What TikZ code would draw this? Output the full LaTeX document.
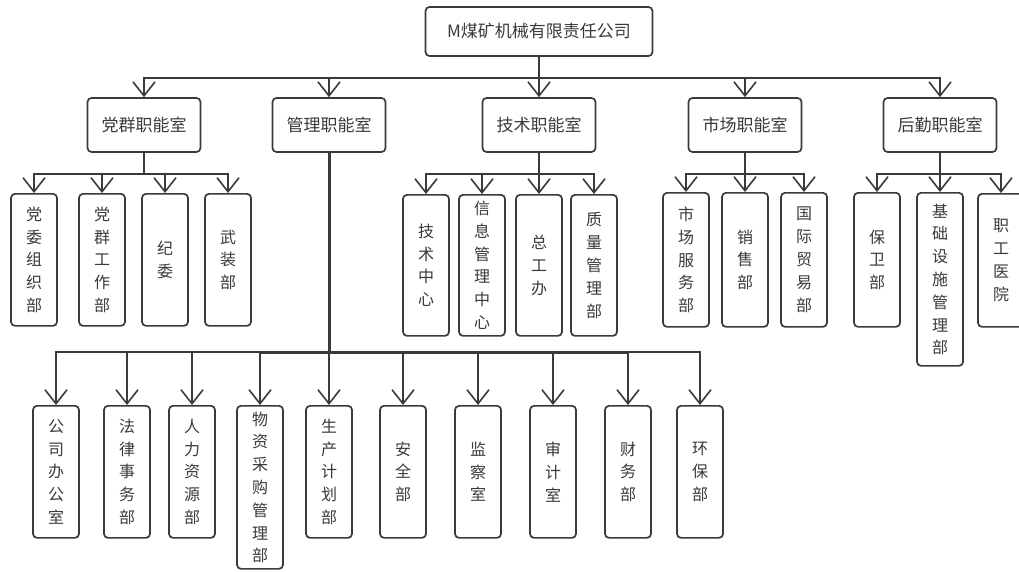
\documentclass[tikz,border=0pt]{standalone}
\usepackage{fontspec}
\newfontfamily\cjk{Noto Sans CJK SC}
\usetikzlibrary{arrows.meta}
\definecolor{ln}{HTML}{3A3A3A}
\definecolor{tx}{HTML}{3A3A3A}
\tikzset{
  box/.style={draw=ln, line width=1.7pt, rounded corners=4pt, fill=white, text=tx, inner sep=0pt, align=center},
  topbox/.style={box, minimum width=227pt, minimum height=49pt, font=\cjk\fontsize{17}{20}\selectfont},
  midbox/.style={box, minimum width=113pt, minimum height=54pt, font=\cjk\fontsize{17}{20}\selectfont},
  leaf/.style={box, anchor=north, minimum width=46pt, minimum height=#1, font=\cjk\fontsize{16}{22.8}\selectfont},
  conn/.style={draw=ln, line width=1.6pt, -{Straight Barb[length=14pt,width=22pt,line width=1.6pt]}},
  trunk/.style={draw=ln, line width=3pt},
}
\begin{document}
\begin{tikzpicture}[x=1pt,y=-1pt]
\useasboundingbox (0,0) rectangle (1019,572);
% top
\node[topbox] (top) at (539,31.5) {M煤矿机械有限责任公司};
% level 1
\node[midbox] (dq) at (144,125) {党群职能室};
\node[midbox] (gl) at (329,125) {管理职能室};
\node[midbox] (js) at (539,125) {技术职能室};
\node[midbox] (sc) at (745,125) {市场职能室};
\node[midbox] (hq) at (940,125) {后勤职能室};
% 党群 children
\node[leaf=132pt] (dq1) at (34,193) {党\\委\\组\\织\\部};
\node[leaf=132pt] (dq2) at (102,193) {党\\群\\工\\作\\部};
\node[leaf=132pt] (dq3) at (165,193) {纪\\委};
\node[leaf=132pt] (dq4) at (228,193) {武\\装\\部};
% 技术 children
\node[leaf=141pt] (js1) at (426,194) {技\\术\\中\\心};
\node[leaf=141pt] (js2) at (482,194) {信\\息\\管\\理\\中\\心};
\node[leaf=141pt] (js3) at (539,194) {总\\工\\办};
\node[leaf=141pt] (js4) at (594,194) {质\\量\\管\\理\\部};
% 市场 children
\node[leaf=134pt] (sc1) at (686,192) {市\\场\\服\\务\\部};
\node[leaf=134pt] (sc2) at (745,192) {销\\售\\部};
\node[leaf=134pt] (sc3) at (804,192) {国\\际\\贸\\易\\部};
% 后勤 children
\node[leaf=134pt] (hq1) at (877,192) {保\\卫\\部};
\node[leaf=173pt] (hq2) at (940,192) {基\\础\\设\\施\\管\\理\\部};
\node[leaf=133pt] (hq3) at (1001,193) {职\\工\\医\\院};
% 管理 children
\node[leaf=132pt] (gl1) at (56,405) {公\\司\\办\\公\\室};
\node[leaf=132pt] (gl2) at (127,405) {法\\律\\事\\务\\部};
\node[leaf=132pt] (gl3) at (192,405) {人\\力\\资\\源\\部};
\node[leaf=163pt] (gl4) at (260,405) {物\\资\\采\\购\\管\\理\\部};
\node[leaf=132pt] (gl5) at (329,405) {生\\产\\计\\划\\部};
\node[leaf=132pt] (gl6) at (403,405) {安\\全\\部};
\node[leaf=132pt] (gl7) at (478,405) {监\\察\\室};
\node[leaf=132pt] (gl8) at (553,405) {审\\计\\室};
\node[leaf=132pt] (gl9) at (628,405) {财\\务\\部};
\node[leaf=132pt] (gl10) at (700,405) {环\\保\\部};
% connectors
\foreach \c in {dq,gl,js,sc,hq}{
  \draw[conn] (top.south) -- ++(0,21) -| (\c.north);
}
\foreach \c in {dq1,dq2,dq3,dq4}{
  \draw[conn] (dq.south) -- ++(0,21) -| (\c.north);
}
\foreach \c in {js1,js2,js3,js4}{
  \draw[conn] (js.south) -- ++(0,21) -| (\c.north);
}
\foreach \c in {sc1,sc2,sc3}{
  \draw[conn] (sc.south) -- ++(0,21) -| (\c.north);
}
\foreach \c in {hq1,hq2,hq3}{
  \draw[conn] (hq.south) -- ++(0,21) -| (\c.north);
}
\coordinate (gj) at (329,352);
\foreach \c in {gl1,gl2,gl3,gl4,gl5,gl6,gl7,gl8,gl9,gl10}{
  \draw[conn] (gl.south) -- (gj) -| (\c.north);
}
\draw[trunk] (gl.south) -- (gj);
\draw[trunk] (gl4.north |- gj) -- (gl9.north |- gj);
\end{tikzpicture}
\end{document}
